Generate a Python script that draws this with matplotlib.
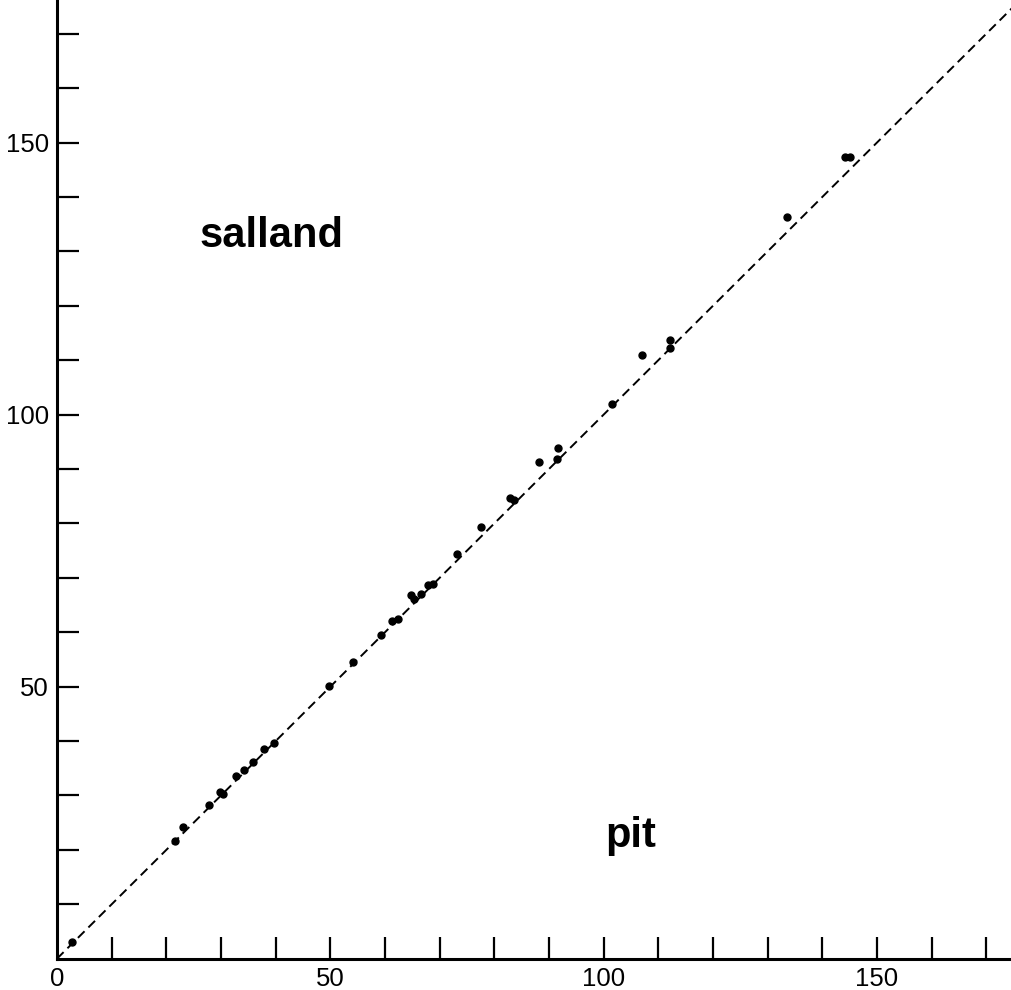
import matplotlib
matplotlib.use("Agg")
import matplotlib.pyplot as plt

x_vals = [2.7, 21.6, 23.1, 27.8, 29.8, 30.3, 32.8, 34.3, 35.8, 37.9, 39.7,
          49.8, 54.1, 59.2, 61.3, 62.3, 64.8, 65.4, 66.6, 67.9, 68.7,
          73.2, 77.6, 82.9, 83.6, 88.2, 91.6, 91.5,
          101.6, 107.0, 112.2, 112.2, 133.6, 144.2, 145.1]
y_vals = [3.1, 21.7, 24.2, 28.3, 30.7, 30.2, 33.6, 34.7, 36.2, 38.6, 39.6,
          50.2, 54.6, 59.5, 62.1, 62.4, 66.9, 66.1, 67.0, 68.6, 68.8,
          74.3, 79.4, 84.7, 84.3, 91.2, 93.8, 91.9,
          101.9, 110.9, 113.7, 112.3, 136.4, 147.3, 147.4]

major_ticks = [0, 50, 100, 150]
minor_ticks = list(range(10, 180, 10))

plt.rcParams["font.family"] = ["Liberation Sans", "DejaVu Sans"]

fig = plt.figure(figsize=(10.12, 9.9), dpi=100)
ax = fig.add_axes([0.0563, 0.0316, 0.9437, 0.9684])

# identity line
ax.plot([0, 176], [0, 176], color="black", lw=1.4,
        linestyle=(0, (4.8, 2.8)), zorder=2)
ax.plot(x_vals, y_vals, "o", color="black", markersize=5, zorder=3)

ax.set_xlim(0, 174.7)
ax.set_ylim(0, 176.2)

for side in ["top", "right"]:
    ax.spines[side].set_visible(False)
for side in ["left", "bottom"]:
    ax.spines[side].set_linewidth(2.2)

ax.set_xticks(major_ticks)
ax.set_yticks(major_ticks)
ax.set_xticks(minor_ticks, minor=True)
ax.set_yticks(minor_ticks, minor=True)
ax.tick_params(which="both", direction="in", width=1.6, length=16)
ax.tick_params(which="major", labelsize=18.5, pad=6)
# the origin has no inner tick
for t in ax.xaxis.get_major_ticks()[:1] + ax.yaxis.get_major_ticks()[:1]:
    t.tick1line.set_visible(False)
ax.set_yticklabels(["", "50", "100", "150"])

ax.text(39.3, 132.8, "salland", fontsize=30, fontweight="bold",
        ha="center", va="center")
ax.text(105, 22.6, "pit", fontsize=30, fontweight="bold",
        ha="center", va="center")

fig.savefig("out.png", dpi=100)
